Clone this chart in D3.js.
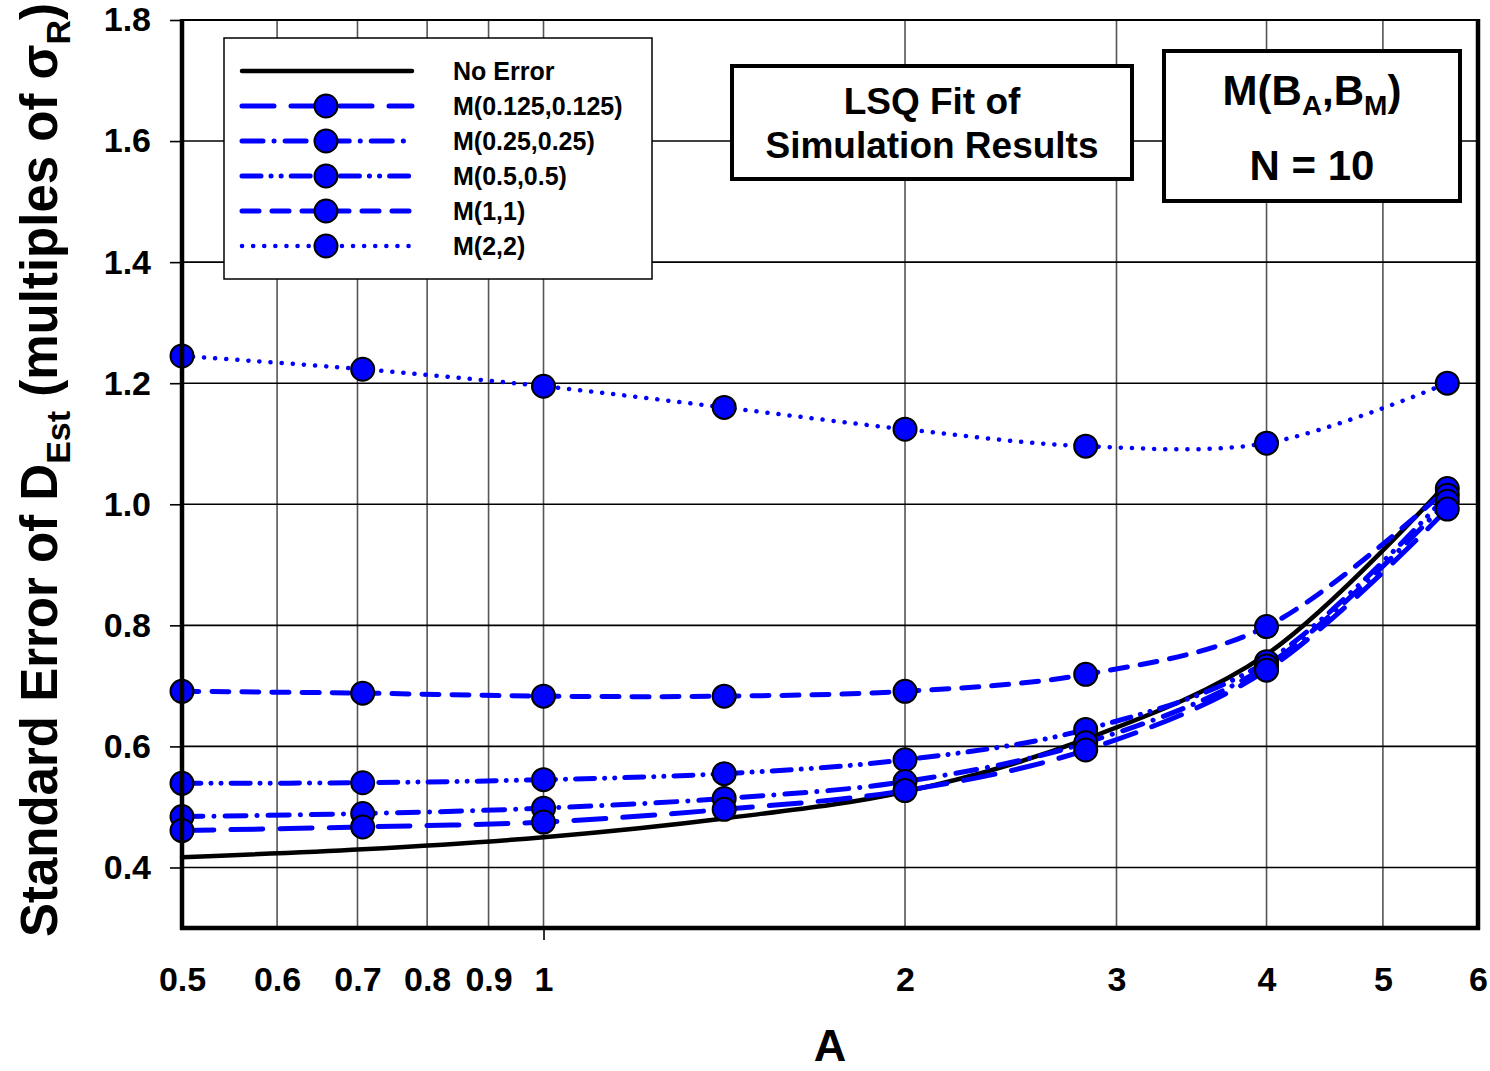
<!DOCTYPE html>
<html>
<head>
<meta charset="utf-8">
<script src="https://cdn.jsdelivr.net/npm/d3@7"></script>
<style>
  html, body { margin: 0; padding: 0; background: #fff; }
  svg { display: block; font-family: "Liberation Sans", Arial, sans-serif; font-weight: bold; }
</style>
</head>
<body>
<svg id="chart" width="1490" height="1071"></svg>
<script>
// ---------- data ----------
const xValues = [0.5, 0.707, 1, 1.414, 2, 2.828, 4, 5.657];
const noError = [0.417, 0.430, 0.450, 0.481, 0.525, 0.612, 0.752, 1.035];
const m0125   = [0.461, 0.467, 0.475, 0.496, 0.527, 0.594, 0.726, 0.992];
const m025    = [0.484, 0.489, 0.498, 0.514, 0.542, 0.606, 0.733, 1.005];
const m05     = [0.539, 0.540, 0.545, 0.555, 0.578, 0.628, 0.740, 1.015];
const m1      = [0.691, 0.688, 0.683, 0.683, 0.691, 0.719, 0.798, 1.026];
const m2      = [1.245, 1.223, 1.195, 1.160, 1.124, 1.096, 1.101, 1.200];

const seriesNames = ["No Error", "M(0.125,0.125)", "M(0.25,0.25)", "M(0.5,0.5)", "M(1,1)", "M(2,2)"];
const xTickValues = [0.5, 0.6, 0.7, 0.8, 0.9, 1, 2, 3, 4, 5, 6];
const xTickLabels = ["0.5", "0.6", "0.7", "0.8", "0.9", "1", "2", "3", "4", "5", "6"];
const yTickValues = [0.4, 0.6, 0.8, 1.0, 1.2, 1.4, 1.6, 1.8];

// ---------- styles ----------
const series = [
  { name: seriesNames[0], values: noError, color: "#000", width: 4.5, dash: null, marker: false },
  { name: seriesNames[1], values: m0125, color: "#0000ff", width: 5, dash: "32,17", marker: true },
  { name: seriesNames[2], values: m025, color: "#0000ff", width: 5, dash: "21,11,0.1,11", marker: true },
  { name: seriesNames[3], values: m05, color: "#0000ff", width: 5, dash: "19,10,0.1,10,0.1,10", marker: true },
  { name: seriesNames[4], values: m1, color: "#0000ff", width: 5, dash: "17,13", marker: true },
  { name: seriesNames[5], values: m2, color: "#0000ff", width: 4.5, dash: "0.1,11", marker: true }
];

const svg = d3.select("#chart");
const L = 182, R = 1478, T = 20, B = 928;

const x = d3.scaleLog().domain([0.5, 6]).range([L, R]);
const y = d3.scaleLinear().domain([0.3, 1.8]).range([B, T]);

// gridlines
const grid = svg.append("g");
grid.selectAll("line.v").data(xTickValues.filter(d => d > 0.5 && d < 6)).join("line")
  .attr("x1", d => x(d)).attr("x2", d => x(d)).attr("y1", T).attr("y2", B)
  .attr("stroke", "#555").attr("stroke-width", 1.6);
grid.selectAll("line.h").data(yTickValues.filter(d => d < 1.8)).join("line")
  .attr("x1", L).attr("x2", R).attr("y1", d => y(d)).attr("y2", d => y(d))
  .attr("stroke", "#000").attr("stroke-width", 1.6);

// axes
const yAxis = d3.axisLeft(y).tickValues(yTickValues).tickFormat(d3.format(".1f")).tickSize(12).tickPadding(19);
const gy = svg.append("g").attr("transform", `translate(${L},0)`).call(yAxis);
gy.select(".domain").remove();
gy.selectAll(".tick line").attr("stroke", "#000").attr("stroke-width", 1.6);
gy.selectAll(".tick text").attr("font-size", 34).attr("font-weight", "bold").attr("fill", "#000")
  .attr("font-family", "Liberation Sans, Arial, sans-serif");

const xAxis = d3.axisBottom(x).tickValues(xTickValues).tickFormat((d, i) => xTickLabels[i]).tickSize(0).tickPadding(39);
const gx = svg.append("g").attr("transform", `translate(0,${B})`).call(xAxis);
gx.select(".domain").remove();
gx.selectAll(".tick text").attr("font-size", 34).attr("font-weight", "bold").attr("fill", "#000")
  .attr("font-family", "Liberation Sans, Arial, sans-serif");
gx.selectAll(".tick").filter(d => d === 1).append("line")
  .attr("y1", 0).attr("y2", 12).attr("stroke", "#000").attr("stroke-width", 1.6);

// lines
const line = d3.line().x((d, i) => x(xValues[i])).y(d => y(d)).curve(d3.curveCatmullRom.alpha(0.5));
const linesG = svg.append("g");
series.forEach(s => {
  linesG.append("path").datum(s.values)
    .attr("d", line)
    .attr("fill", "none")
    .attr("stroke", s.color)
    .attr("stroke-width", s.width)
    .attr("stroke-linecap", "round")
    .attr("stroke-dasharray", s.dash);
});

// markers
const markG = svg.append("g");
series.filter(s => s.marker).slice().reverse().forEach(s => {
  markG.selectAll(null).data(s.values).join("circle")
    .attr("cx", (d, i) => x(xValues[i])).attr("cy", d => y(d)).attr("r", 11.5)
    .attr("fill", "#0000ff").attr("stroke", "#000").attr("stroke-width", 2);
});

// frame
svg.append("line").attr("x1", L).attr("x2", R).attr("y1", T).attr("y2", T).attr("stroke", "#000").attr("stroke-width", 2);
svg.append("line").attr("x1", L).attr("x2", L).attr("y1", T - 1).attr("y2", B + 2).attr("stroke", "#000").attr("stroke-width", 4.5);
svg.append("line").attr("x1", R).attr("x2", R).attr("y1", T - 1).attr("y2", B + 2).attr("stroke", "#000").attr("stroke-width", 4.5);
svg.append("line").attr("x1", L - 2).attr("x2", R + 2).attr("y1", B).attr("y2", B).attr("stroke", "#000").attr("stroke-width", 4.5);

// legend
const lg = svg.append("g");
lg.append("rect").attr("x", 224).attr("y", 38).attr("width", 428).attr("height", 241)
  .attr("fill", "#fff").attr("stroke", "#000").attr("stroke-width", 1.5);
series.forEach((s, i) => {
  const yy = 71 + i * 35;
  lg.append("line").attr("x1", 242).attr("x2", 412).attr("y1", yy).attr("y2", yy)
    .attr("stroke", s.color).attr("stroke-width", s.width).attr("stroke-linecap", "round")
    .attr("stroke-dasharray", s.dash);
  if (s.marker) {
    lg.append("circle").attr("cx", 326).attr("cy", yy).attr("r", 11.5)
      .attr("fill", "#0000ff").attr("stroke", "#000").attr("stroke-width", 2);
  }
  lg.append("text").attr("x", 453).attr("y", yy + 9).attr("font-size", 25).text(s.name);
});

// annotation boxes
svg.append("rect").attr("x", 732).attr("y", 66).attr("width", 400).attr("height", 113)
  .attr("fill", "#fff").attr("stroke", "#000").attr("stroke-width", 4);
svg.append("text").attr("x", 932).attr("y", 114).attr("text-anchor", "middle").attr("font-size", 37).text("LSQ Fit of");
svg.append("text").attr("x", 932).attr("y", 158).attr("text-anchor", "middle").attr("font-size", 37).text("Simulation Results");

svg.append("rect").attr("x", 1164).attr("y", 51).attr("width", 296).attr("height", 150)
  .attr("fill", "#fff").attr("stroke", "#000").attr("stroke-width", 4);
const mt = svg.append("text").attr("x", 1312).attr("y", 105).attr("text-anchor", "middle").attr("font-size", 42);
mt.append("tspan").text("M(B");
mt.append("tspan").attr("font-size", 28).attr("dy", 10).text("A");
mt.append("tspan").attr("dy", -10).text(",B");
mt.append("tspan").attr("font-size", 28).attr("dy", 10).text("M");
mt.append("tspan").attr("dy", -10).text(")");
svg.append("text").attr("x", 1312).attr("y", 180).attr("text-anchor", "middle").attr("font-size", 42).text("N = 10");

// axis titles
svg.append("text").attr("x", 830).attr("y", 1061).attr("text-anchor", "middle").attr("font-size", 45).text("A");
const yt = svg.append("text").attr("transform", "translate(57,470) rotate(-90)")
  .attr("text-anchor", "middle").attr("font-size", 51);
yt.append("tspan").text("Standard Error of D");
yt.append("tspan").attr("font-size", 34).attr("dy", 13).text("Est");
yt.append("tspan").attr("dy", -13).text(" (multiples of σ");
yt.append("tspan").attr("font-size", 34).attr("dy", 13).text("R");
yt.append("tspan").attr("dy", -13).text(")");
</script>
</body>
</html>
